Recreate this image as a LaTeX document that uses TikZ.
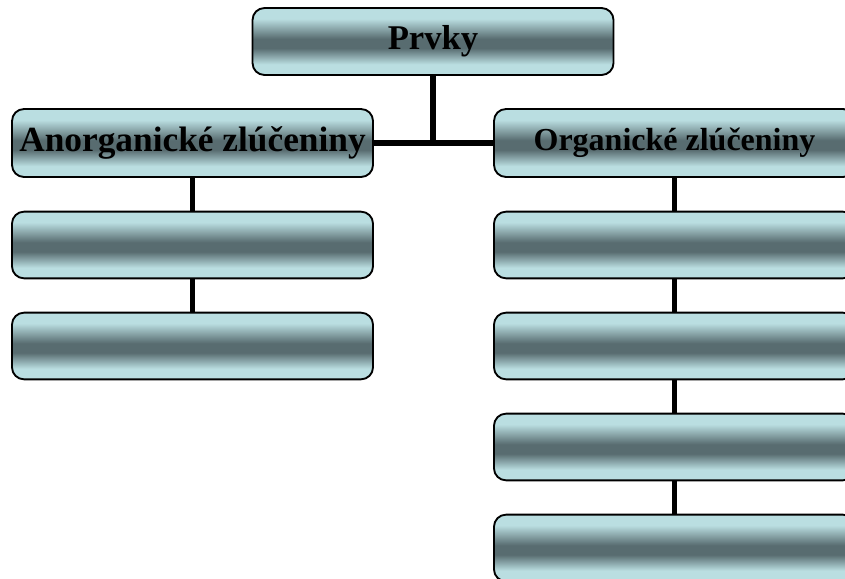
\documentclass[tikz,border=0pt]{standalone}
\usepackage{fontspec}
\setmainfont{Liberation Serif}
\usepackage{xcolor}
\usepackage{tikz}
\usetikzlibrary{calc}
\usetikzlibrary{positioning}

\definecolor{boxlight}{RGB}{186,222,225}
\definecolor{boxdark}{RGB}{88,108,112}
\pgfdeclareverticalshading{boxshade}{100bp}{color(0bp)=(boxlight); color(33bp)=(boxlight); color(45bp)=(boxdark); color(52bp)=(boxdark); color(67bp)=(boxlight); color(100bp)=(boxlight)}

\begin{document}
\begin{tikzpicture}[x=0.75pt, y=-0.75pt,
  box/.style={draw=black, line width=1.4pt, rounded corners=9pt, shading=boxshade,
    minimum width=270.75pt, minimum height=50pt, inner sep=0pt, font=\bfseries},
  conn/.style={black, line width=4.3pt}]
\useasboundingbox (0,0) rectangle (845,578);
\clip (0,0) rectangle (845,578);
% top
\node[box, minimum height=50.25pt, font=\bfseries\fontsize{26}{30}\selectfont] (prvky) at (433,41.5) {Prvky};
% left column
\node[box, minimum height=51pt, font=\bfseries\fontsize{26.5}{30}\selectfont] (anorg) at (192.5,143) {Anorganické zlúčeniny};
\node[box] (anorgA) at (192.5,245) {};
\node[box] (anorgB) at (192.5,346) {};
% right column
\node[box, minimum height=51pt, font=\bfseries\fontsize{24}{28}\selectfont] (org) at (674.5,143) {Organické zlúčeniny};
\node[box] (orgA) at (674.5,245) {};
\node[box] (orgB) at (674.5,346) {};
\node[box] (orgC) at (674.5,447) {};
\node[box] (orgD) at (674.5,548) {};
% connectors
\draw[conn] (anorg.east) -- (org.west);
\draw[conn] (prvky.south) -- (prvky.south |- anorg.east);
\draw[conn] (anorg.south) -- (anorgA.north);
\draw[conn] (anorgA.south) -- (anorgB.north);
\draw[conn] (org.south) -- (orgA.north);
\draw[conn] (orgA.south) -- (orgB.north);
\draw[conn] (orgB.south) -- (orgC.north);
\draw[conn] (orgC.south) -- (orgD.north);
\end{tikzpicture}
\end{document}
